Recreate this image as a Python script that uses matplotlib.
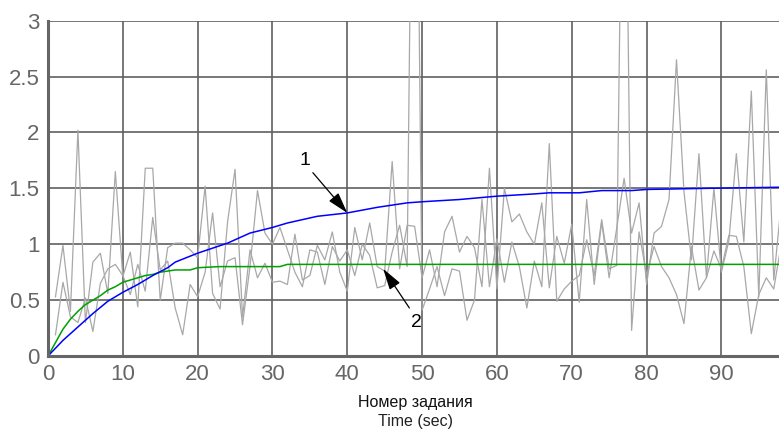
import numpy as np
import matplotlib
matplotlib.use("Agg")
import matplotlib.pyplot as plt

# noisy per-task values (two runs), x = 1..98
task_x = list(range(1, 99))
run_a = [0.53, 0.99, 0.40, 2.02, 0.30, 0.84, 0.92, 0.56, 1.65, 0.71,
         0.93, 0.44, 1.68, 1.68, 0.50, 0.97, 1.01, 1.01, 0.95, 0.88,
         1.52, 0.56, 0.42, 1.20, 1.67, 0.35, 0.95, 0.70, 0.83, 0.66,
         0.67, 0.64, 1.09, 0.68, 0.72, 0.99, 0.86, 1.11, 0.75, 0.58,
         1.15, 0.86, 1.19, 0.80, 0.76, 1.74, 0.78, 1.17, 1.16, 0.70,
         0.95, 0.62, 1.11, 1.25, 0.93, 1.07, 0.97, 0.62, 1.68, 0.60,
         1.50, 1.20, 1.27, 1.11, 1.00, 1.37, 0.61, 1.07, 0.83, 1.18,
         0.48, 1.40, 0.64, 1.20, 0.70, 1.14, 1.59, 1.10, 1.37, 0.64,
         1.10, 1.16, 1.40, 2.65, 1.47, 0.86, 1.81, 0.70, 1.50, 0.75,
         1.03, 1.81, 1.02, 2.37, 0.53, 2.56, 0.68, 1.37]
run_b = [0.19, 0.66, 0.35, 0.30, 0.52, 0.22, 0.65, 0.78, 0.82, 0.72,
         0.55, 0.82, 0.58, 1.24, 0.77, 0.85, 0.43, 0.19, 0.64, 0.53,
         0.75, 1.28, 0.62, 0.85, 0.88, 0.28, 0.80, 1.48, 1.10, 1.00,
         1.15, 0.95, 0.75, 0.62, 0.95, 0.93, 0.64, 0.98, 0.85, 0.95,
         0.72, 1.00, 0.90, 0.61, 0.63, 0.93, 1.17, 0.80, 7.00, 0.41,
         0.60, 0.80, 0.54, 0.78, 0.76, 0.32, 0.50, 1.40, 0.62, 1.05,
         0.66, 1.02, 0.80, 0.43, 0.85, 0.62, 1.90, 0.49, 0.60, 0.67,
         0.72, 1.04, 0.72, 1.22, 0.78, 0.81, 6.00, 0.23, 1.11, 0.72,
         0.98, 0.80, 0.70, 0.55, 0.29, 0.98, 0.59, 0.70, 0.94, 0.78,
         1.08, 1.07, 0.80, 0.20, 0.55, 0.70, 0.60, 1.00]

# curve 1 (blue)
c1_x = [0, 2, 4, 6, 8, 10, 12, 14, 16, 17, 20, 24, 27, 30, 32, 36, 40,
        44, 48, 50, 55, 60, 65, 67, 71, 74, 78, 80, 88, 98]
c1_y = [0, 0.14, 0.26, 0.38, 0.49, 0.57, 0.64, 0.72, 0.79, 0.84, 0.92,
        1.01, 1.10, 1.15, 1.19, 1.25, 1.28, 1.33, 1.37, 1.38, 1.40, 1.43,
        1.45, 1.46, 1.46, 1.48, 1.48, 1.49, 1.50, 1.51]

# curve 2 (green)
c2_x = [0, 1, 2, 3, 4, 5, 6, 7, 8, 9, 10, 11, 12, 13, 14, 15, 17, 19,
        20, 23, 31, 32, 98]
c2_y = [0, 0.12, 0.24, 0.33, 0.40, 0.46, 0.50, 0.54, 0.59, 0.62, 0.66,
        0.68, 0.70, 0.72, 0.73, 0.75, 0.77, 0.77, 0.79, 0.80, 0.80, 0.82,
        0.82]

fig = plt.figure(figsize=(7.79, 4.30), dpi=100)
ax = fig.add_axes([0.0616, 0.172, 0.9384, 0.780])

ax.plot(task_x, run_a, color="#a8a8a8", lw=0.9)
ax.plot(task_x, run_b, color="#a8a8a8", lw=0.9)
ax.plot(c2_x, c2_y, color="#00a000", lw=1.1)
ax.plot(c1_x, c1_y, color="#0000ff", lw=1.1)

ax.set_xlim(0, 97.7)
ax.set_ylim(0, 3)
ax.set_xticks(range(0, 91, 10))
ax.set_yticks([0, 0.5, 1, 1.5, 2, 2.5, 3])
ax.set_yticklabels(["0", "0.5", "1", "1.5", "2", "2.5", "3"])
ax.grid(True, color="#606060", lw=1.2)
ax.set_axisbelow(True)
ax.tick_params(length=0, labelsize=16, labelcolor="#666666", pad=6)
for lab in ax.get_xticklabels() + ax.get_yticklabels():
    lab.set_family(["Liberation Sans", "DejaVu Sans"])
for s in ["top", "right"]:
    ax.spines[s].set_visible(False)
for s in ["left", "bottom"]:
    ax.spines[s].set_color("#666666")
    ax.spines[s].set_linewidth(2.2)

arrow = dict(arrowstyle="-|>,head_length=1.3,head_width=0.38",
             color="black", lw=0.9, shrinkA=0, shrinkB=0)
ax.annotate("", xy=(40, 1.28), xytext=(35.4, 1.64), arrowprops=arrow)
ax.annotate("", xy=(44.8, 0.78), xytext=(48.3, 0.43), arrowprops=arrow)
ax.text(34.4, 1.75, "1", fontsize=14, ha="center", va="center",
        family=["Liberation Sans", "DejaVu Sans"])
ax.text(49.3, 0.30, "2", fontsize=14, ha="center", va="center",
        family=["Liberation Sans", "DejaVu Sans"])

fig.text(0.533, 0.063, "Номер задания", fontsize=11.5, ha="center",
         va="center", color="#111111",
         family=["Liberation Sans Narrow", "Liberation Sans", "DejaVu Sans"])
fig.text(0.533, 0.019, "Time (sec)", fontsize=11.5, ha="center",
         va="center", color="#222222",
         family=["Liberation Sans Narrow", "Liberation Sans", "DejaVu Sans"])

fig.savefig("out.png", dpi=100)
